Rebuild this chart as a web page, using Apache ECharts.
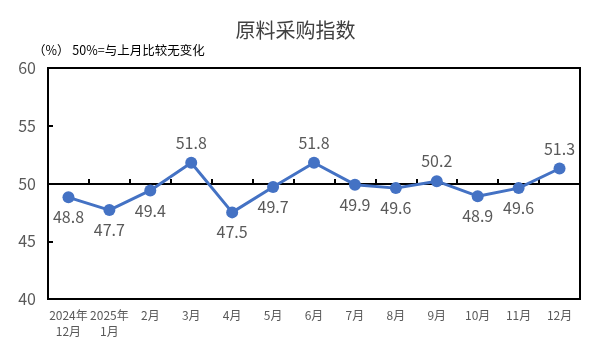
<!DOCTYPE html>
<html>
<head>
<meta charset="utf-8">
<script src="https://cdn.jsdelivr.net/npm/echarts@6/dist/echarts.min.js"></script>
<style>
  html, body { margin: 0; padding: 0; background: #fff; }
  #chart { width: 591px; height: 354px; }
</style>
</head>
<body>
<div id="chart"></div>
<script>
const months = ['2024年\n12月', '2025年\n1月', '2月', '3月', '4月', '5月', '6月', '7月', '8月', '9月', '10月', '11月', '12月']
const values = [48.8, 47.7, 49.4, 51.8, 47.5, 49.7, 51.8, 49.9, 49.6, 50.2, 48.9, 49.6, 51.3]
const yTicks = [40, 45, 50, 55, 60]
// where each value label sits
const labelPos = ['bottom', 'bottom', 'bottom', 'top', 'bottom', 'bottom', 'top', 'bottom', 'bottom', 'top', 'bottom', 'bottom', 'top']

const chart = echarts.init(document.getElementById('chart'))
const font = "'Noto Sans CJK SC', 'DejaVu Sans', sans-serif"

chart.setOption({
  animation: false,
  textStyle: { fontFamily: font },
  title: [
    {
      text: '原料采购指数',
      left: 'center',
      top: 15,
      textStyle: { fontSize: 20, fontWeight: 'normal', color: '#404040', fontFamily: font }
    },
    {
      text: '（%） 50%=与上月比较无变化',
      left: 28,
      top: 39,
      textStyle: { fontSize: 12.5, fontWeight: 'normal', color: '#000', fontFamily: font }
    }
  ],
  grid: [
    { left: 48, right: 11, top: 68, bottom: 55, show: true, borderColor: '#000', borderWidth: 2 },
    // overlay grid whose bottom edge is the 50 line
    { left: 48, right: 11, top: 68, bottom: 170 }
  ],
  xAxis: [
    {
      type: 'category',
      gridIndex: 0,
      data: months,
      axisLine: { show: true, lineStyle: { color: '#000', width: 2 } },
      axisTick: { show: false },
      axisLabel: { color: '#595959', fontSize: 12, lineHeight: 16, margin: 8, interval: 0 }
    },
    {
      type: 'category',
      gridIndex: 1,
      data: months,
      z: 3,
      axisLine: { show: true, lineStyle: { color: '#000', width: 2 } },
      axisTick: { show: true, inside: true, interval: 0, length: 5, lineStyle: { color: '#000', width: 2 } },
      axisLabel: { show: false }
    }
  ],
  yAxis: [
    {
      type: 'value',
      gridIndex: 0,
      min: yTicks[0],
      max: yTicks[yTicks.length - 1],
      interval: 5,
      axisLine: { show: true, lineStyle: { color: '#000', width: 2 } },
      axisTick: { show: true, inside: true, length: 5, lineStyle: { color: '#000', width: 2 } },
      axisLabel: { color: '#595959', fontSize: 16, margin: 12 },
      splitLine: { show: false }
    },
    {
      type: 'value',
      gridIndex: 1,
      min: 0,
      max: 1,
      show: false
    }
  ],
  series: [
    {
      type: 'line',
      xAxisIndex: 0,
      yAxisIndex: 0,
      z: 5,
      data: values.map((v, i) => ({
        value: v,
        label: { position: labelPos[i] }
      })),
      symbol: 'circle',
      symbolSize: 12,
      lineStyle: { color: '#4472C4', width: 3 },
      itemStyle: { color: '#4472C4' },
      label: { show: true, color: '#595959', fontSize: 16, distance: 6 }
    }
  ]
})
</script>
</body>
</html>
